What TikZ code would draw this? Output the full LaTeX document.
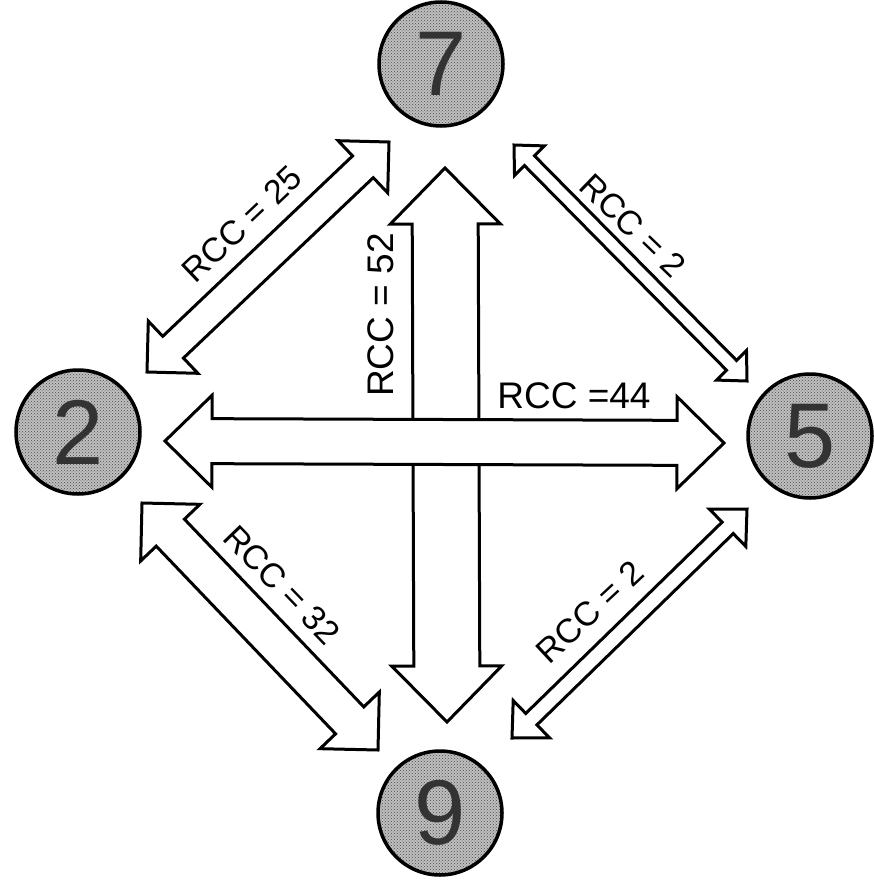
\documentclass[tikz,border=0pt]{standalone}
\usepackage{fontspec}
\setmainfont{Liberation Sans}
\newfontfamily\lblfont{Liberation Sans}
\usetikzlibrary{calc,patterns}
\newcommand\blockarrow[5]{%
  \coordinate (ba-h1) at ($(#1)!#5!(#2)$);
  \coordinate (ba-h2) at ($(#2)!#5!(#1)$);
  \filldraw[arrowline] (#1)
    -- ($(ba-h1)!#4!90:(#2)$)
    -- ($(ba-h1)!#3!90:(#2)$)
    -- ($(ba-h2)!#3!-90:(#1)$)
    -- ($(ba-h2)!#4!-90:(#1)$)
    -- (#2)
    -- ($(ba-h2)!#4!90:(#1)$)
    -- ($(ba-h2)!#3!90:(#1)$)
    -- ($(ba-h1)!#3!-90:(#2)$)
    -- ($(ba-h1)!#4!-90:(#2)$)
    -- cycle;}
\begin{document}
\begin{tikzpicture}[x=1pt,y=-1pt,
  station/.style={circle, draw=black, line width=3.5pt, minimum size=124pt,
    inner sep=0pt, preaction={fill=gray!50}, pattern=crosshatch dots,
    pattern color=black!70, text=black!80,
    font=\fontsize{92}{92}\selectfont},
  arrowline/.style={draw=black, fill=white, line width=3pt, line join=miter},
  rcc/.style={font=\lblfont\fontsize{34}{34}\selectfont, inner sep=0pt},
  rccbig/.style={font=\lblfont\fontsize{37}{37}\selectfont, inner sep=0pt}]
\useasboundingbox (0,0) rectangle (874,880);
% stations
\node[station] (n7) at (441,64) {7};
\node[station] (n2) at (78,432) {2};
\node[station] (n5) at (810,436) {5};
\node[station] (n9) at (440,813) {9};
% arrow end points
\coordinate (a27s) at (147,372);
\coordinate (a27e) at (389,142);
\coordinate (a75s) at (514,145);
\coordinate (a75e) at (747,381);
\coordinate (a29s) at (142,503);
\coordinate (a29e) at (378,750);
\coordinate (a95s) at (512,738);
\coordinate (a95e) at (747,509);
\coordinate (a79s) at (445,168);
\coordinate (a79e) at (447,722);
\coordinate (a25s) at (165,441);
\coordinate (a25e) at (724,443);
% arrows
\blockarrow{a27s}{a27e}{15pt}{36pt}{36pt}
\blockarrow{a75s}{a75e}{7pt}{21pt}{22pt}
\blockarrow{a29s}{a29e}{19.5pt}{41pt}{41pt}
\blockarrow{a95s}{a95e}{8pt}{26pt}{27pt}
\blockarrow{a79s}{a79e}{33pt}{55pt}{56pt}
\blockarrow{a25s}{a25e}{22.5pt}{46pt}{47pt}
% labels
\node[rcc, rotate=43.5] (l25) at (242,224) {RCC = 25};
\node[rccbig, rotate=90] (l52) at (381,315) {RCC = 52};
\node[rccbig] (l44) at (574,396) {RCC =44};
\node[rcc, rotate=-44] (l2a) at (633,226) {RCC = 2};
\node[rcc, rotate=-46] (l32) at (282,585) {RCC = 32};
\node[rcc, rotate=43] (l2b) at (590,612) {RCC = 2};
\end{tikzpicture}
\end{document}
